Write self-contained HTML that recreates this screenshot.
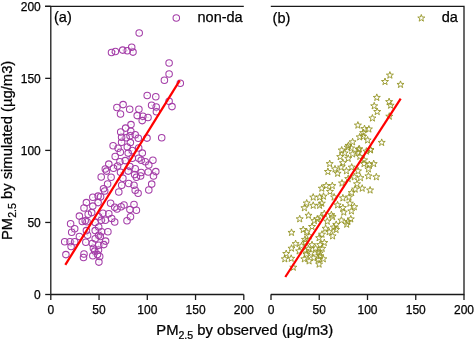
<!DOCTYPE html>
<html><head><meta charset="utf-8"><style>
html,body{margin:0;padding:0;background:#fff;}
body{width:475px;height:341px;overflow:hidden;}
svg{display:block;will-change:transform;}
text{font-family:"Liberation Sans",sans-serif;fill:#000;stroke:#000;stroke-width:0.25px;}
</style></head><body>
<svg width="475" height="341" viewBox="0 0 475 341">
<defs>
<g id="c"><circle r="3.25" fill="none" stroke="#a43ea8" stroke-width="1.05"/><circle r="0.6" fill="#a43ea8" fill-opacity="0.35"/></g>
<path id="s" d="M0.00,-3.70 L0.88,-1.21 L3.52,-1.14 L1.43,0.46 L2.17,2.99 L0.00,1.50 L-2.17,2.99 L-1.43,0.46 L-3.52,-1.14 L-0.88,-1.21Z" fill="none" stroke="#959526" stroke-width="0.9" stroke-linejoin="miter" stroke-miterlimit="3"/>
</defs>

<g stroke="#1a1a1a" stroke-width="1.3" fill="none" shape-rendering="auto">
<path d="M50.8,6.3 V294.5 M45,6.3 H243.8 M50.8,294.5 H243.8"/>
<path d="M45.2,294.50 H50.8"/>
<path d="M45.2,222.45 H50.8"/>
<path d="M45.2,150.40 H50.8"/>
<path d="M45.2,78.35 H50.8"/>
<path d="M45.2,6.30 H50.8"/>
<path d="M50.80,294.5 V300"/>
<path d="M99.05,294.5 V300"/>
<path d="M147.30,294.5 V300"/>
<path d="M195.55,294.5 V300"/>
<path d="M243.80,294.5 V300"/>
<path d="M270.8,6.3 H464 V294.5 H270.8"/>
<path d="M271.00,294.5 V300"/>
<path d="M319.25,294.5 V300"/>
<path d="M367.50,294.5 V300"/>
<path d="M415.75,294.5 V300"/>
<path d="M464.00,294.5 V300"/>
</g>
<g font-size="12">
<text x="40.8" y="298.80" text-anchor="end">0</text>
<text x="40.8" y="226.75" text-anchor="end">50</text>
<text x="40.8" y="154.70" text-anchor="end">100</text>
<text x="40.8" y="82.65" text-anchor="end">150</text>
<text x="40.8" y="10.60" text-anchor="end">200</text>
<text x="50.80" y="313.6" text-anchor="middle">0</text>
<text x="99.05" y="313.6" text-anchor="middle">50</text>
<text x="147.30" y="313.6" text-anchor="middle">100</text>
<text x="195.55" y="313.6" text-anchor="middle">150</text>
<text x="243.80" y="313.6" text-anchor="middle">200</text>
<text x="271.00" y="313.6" text-anchor="middle">0</text>
<text x="319.25" y="313.6" text-anchor="middle">50</text>
<text x="367.50" y="313.6" text-anchor="middle">100</text>
<text x="415.75" y="313.6" text-anchor="middle">150</text>
<text x="464.00" y="313.6" text-anchor="middle">200</text>
</g>
<text x="54" y="22" font-size="14.5">(a)</text>
<text x="272.6" y="23" font-size="14.5">(b)</text>
<text x="197.5" y="22.2" font-size="14.5">non-da</text>
<text x="441.8" y="22.2" font-size="14.5">da</text>
<use href="#c" x="176.3" y="18"/>
<use href="#s" x="421.3" y="18.2"/>
<text transform="translate(156.3,335.4) scale(1.057,1)" x="0" y="0" font-size="14">PM<tspan font-size="10" dy="3.8">2.5</tspan><tspan dy="-3.8"> by observed (µg/m3)</tspan></text>
<text transform="translate(12,240) rotate(-90) scale(1.057,1)" x="0" y="0" font-size="14">PM<tspan font-size="10" dy="4.2">2.5</tspan><tspan dy="-4.2"> by simulated (µg/m3)</tspan></text>
<g>
<use href="#c" x="139.2" y="32.9"/>
<use href="#c" x="111.5" y="52.4"/>
<use href="#c" x="115.4" y="51.4"/>
<use href="#c" x="122.7" y="50.1"/>
<use href="#c" x="127.3" y="50.7"/>
<use href="#c" x="131.7" y="47.2"/>
<use href="#c" x="133.0" y="52.1"/>
<use href="#c" x="169.1" y="62.9"/>
<use href="#c" x="169.1" y="74.0"/>
<use href="#c" x="164.4" y="80.2"/>
<use href="#c" x="180.3" y="83.2"/>
<use href="#c" x="147.2" y="95.4"/>
<use href="#c" x="155.8" y="96.7"/>
<use href="#c" x="169.1" y="101.3"/>
<use href="#c" x="151.6" y="105.2"/>
<use href="#c" x="156.2" y="107.0"/>
<use href="#c" x="172.0" y="106.6"/>
<use href="#c" x="123.1" y="104.6"/>
<use href="#c" x="116.9" y="107.5"/>
<use href="#c" x="129.7" y="109.2"/>
<use href="#c" x="138.9" y="109.2"/>
<use href="#c" x="120.5" y="114.0"/>
<use href="#c" x="137.2" y="115.6"/>
<use href="#c" x="142.9" y="116.2"/>
<use href="#c" x="142.2" y="120.6"/>
<use href="#c" x="131.0" y="124.6"/>
<use href="#c" x="113.1" y="145.7"/>
<use href="#c" x="156.4" y="111.7"/>
<use href="#c" x="148.0" y="117.4"/>
<use href="#c" x="147.0" y="138.1"/>
<use href="#c" x="161.7" y="137.8"/>
<use href="#c" x="152.9" y="160.2"/>
<use href="#c" x="145.3" y="161.7"/>
<use href="#c" x="148.8" y="164.9"/>
<use href="#c" x="141.2" y="160.2"/>
<use href="#c" x="148.2" y="172.0"/>
<use href="#c" x="155.8" y="171.6"/>
<use href="#c" x="141.2" y="172.5"/>
<use href="#c" x="115.2" y="156.5"/>
<use href="#c" x="132.3" y="158.2"/>
<use href="#c" x="138.7" y="158.2"/>
<use href="#c" x="108.8" y="164.1"/>
<use href="#c" x="119.9" y="161.7"/>
<use href="#c" x="125.2" y="160.6"/>
<use href="#c" x="113.5" y="168.2"/>
<use href="#c" x="129.9" y="166.4"/>
<use href="#c" x="135.2" y="168.8"/>
<use href="#c" x="106.5" y="171.1"/>
<use href="#c" x="120.5" y="172.3"/>
<use href="#c" x="128.2" y="171.1"/>
<use href="#c" x="134.6" y="174.6"/>
<use href="#c" x="101.2" y="177.0"/>
<use href="#c" x="111.1" y="177.2"/>
<use href="#c" x="122.9" y="178.2"/>
<use href="#c" x="136.4" y="177.2"/>
<use href="#c" x="107.6" y="184.0"/>
<use href="#c" x="121.7" y="185.2"/>
<use href="#c" x="128.7" y="183.4"/>
<use href="#c" x="134.0" y="185.2"/>
<use href="#c" x="103.5" y="188.7"/>
<use href="#c" x="104.7" y="190.9"/>
<use href="#c" x="118.8" y="192.0"/>
<use href="#c" x="135.2" y="190.3"/>
<use href="#c" x="138.1" y="193.2"/>
<use href="#c" x="100.6" y="196.7"/>
<use href="#c" x="110.6" y="203.2"/>
<use href="#c" x="114.7" y="207.3"/>
<use href="#c" x="121.1" y="206.7"/>
<use href="#c" x="124.0" y="204.9"/>
<use href="#c" x="117.0" y="209.0"/>
<use href="#c" x="134.0" y="204.4"/>
<use href="#c" x="129.9" y="209.6"/>
<use href="#c" x="136.4" y="210.2"/>
<use href="#c" x="102.9" y="213.2"/>
<use href="#c" x="108.8" y="213.7"/>
<use href="#c" x="130.5" y="216.7"/>
<use href="#c" x="127.0" y="220.8"/>
<use href="#c" x="105.3" y="220.2"/>
<use href="#c" x="111.7" y="218.4"/>
<use href="#c" x="114.7" y="222.0"/>
<use href="#c" x="101.2" y="220.2"/>
<use href="#c" x="92.8" y="197.3"/>
<use href="#c" x="98.1" y="196.1"/>
<use href="#c" x="86.4" y="202.6"/>
<use href="#c" x="92.8" y="206.1"/>
<use href="#c" x="98.1" y="202.6"/>
<use href="#c" x="84.0" y="207.9"/>
<use href="#c" x="79.4" y="216.1"/>
<use href="#c" x="88.2" y="214.3"/>
<use href="#c" x="91.7" y="212.6"/>
<use href="#c" x="85.2" y="220.8"/>
<use href="#c" x="82.3" y="221.4"/>
<use href="#c" x="95.2" y="222.5"/>
<use href="#c" x="70.6" y="223.7"/>
<use href="#c" x="98.7" y="216.7"/>
<use href="#c" x="74.7" y="228.8"/>
<use href="#c" x="71.7" y="232.3"/>
<use href="#c" x="87.0" y="221.8"/>
<use href="#c" x="86.4" y="230.6"/>
<use href="#c" x="87.6" y="235.2"/>
<use href="#c" x="95.2" y="230.6"/>
<use href="#c" x="98.7" y="227.0"/>
<use href="#c" x="79.4" y="236.4"/>
<use href="#c" x="64.7" y="241.7"/>
<use href="#c" x="70.0" y="241.7"/>
<use href="#c" x="74.7" y="241.7"/>
<use href="#c" x="71.1" y="246.4"/>
<use href="#c" x="85.8" y="242.3"/>
<use href="#c" x="92.3" y="243.5"/>
<use href="#c" x="95.2" y="238.8"/>
<use href="#c" x="98.7" y="235.2"/>
<use href="#c" x="98.7" y="245.2"/>
<use href="#c" x="93.4" y="248.2"/>
<use href="#c" x="65.9" y="254.6"/>
<use href="#c" x="84.0" y="254.0"/>
<use href="#c" x="83.5" y="257.5"/>
<use href="#c" x="92.8" y="255.8"/>
<use href="#c" x="97.5" y="254.6"/>
<use href="#c" x="101.5" y="231.7"/>
<use href="#c" x="107.9" y="231.7"/>
<use href="#c" x="100.3" y="236.4"/>
<use href="#c" x="105.6" y="241.1"/>
<use href="#c" x="103.8" y="244.6"/>
<use href="#c" x="98.5" y="249.9"/>
<use href="#c" x="99.7" y="256.4"/>
<use href="#c" x="98.9" y="262.1"/>
<use href="#c" x="94.7" y="251.1"/>
<use href="#c" x="140.6" y="175.9"/>
<use href="#c" x="153.5" y="175.9"/>
<use href="#c" x="151.7" y="184.1"/>
<use href="#c" x="148.8" y="189.9"/>
<use href="#c" x="105.3" y="169.0"/>
<use href="#c" x="117.6" y="165.9"/>
<use href="#c" x="125.6" y="128.1"/>
<use href="#c" x="120.7" y="132.0"/>
<use href="#c" x="130.8" y="131.2"/>
<use href="#c" x="130.0" y="135.8"/>
<use href="#c" x="135.2" y="134.7"/>
<use href="#c" x="121.6" y="137.3"/>
<use href="#c" x="126.2" y="137.8"/>
<use href="#c" x="138.3" y="138.2"/>
<use href="#c" x="121.6" y="142.2"/>
<use href="#c" x="130.4" y="142.6"/>
<use href="#c" x="118.1" y="148.3"/>
<use href="#c" x="127.3" y="147.0"/>
<use href="#c" x="132.2" y="150.5"/>
<use href="#c" x="138.7" y="147.9"/>
<use href="#c" x="120.3" y="152.3"/>
<use href="#c" x="128.2" y="153.1"/>
<use href="#c" x="142.3" y="153.1"/>
</g><g>
<use href="#s" x="389.9" y="75.3"/>
<use href="#s" x="385.0" y="81.7"/>
<use href="#s" x="400.5" y="84.6"/>
<use href="#s" x="389.3" y="116.4"/>
<use href="#s" x="347.6" y="147.3"/>
<use href="#s" x="341.7" y="150.2"/>
<use href="#s" x="359.3" y="149.0"/>
<use href="#s" x="381.7" y="142.6"/>
<use href="#s" x="313.2" y="197.3"/>
<use href="#s" x="319.6" y="197.3"/>
<use href="#s" x="306.7" y="203.2"/>
<use href="#s" x="304.4" y="207.9"/>
<use href="#s" x="313.2" y="205.5"/>
<use href="#s" x="319.6" y="205.5"/>
<use href="#s" x="308.5" y="215.5"/>
<use href="#s" x="299.7" y="219.0"/>
<use href="#s" x="314.4" y="220.8"/>
<use href="#s" x="320.8" y="217.3"/>
<use href="#s" x="327.3" y="221.4"/>
<use href="#s" x="331.4" y="214.9"/>
<use href="#s" x="324.3" y="213.8"/>
<use href="#s" x="312.0" y="226.7"/>
<use href="#s" x="291.5" y="232.6"/>
<use href="#s" x="303.2" y="229.7"/>
<use href="#s" x="306.7" y="232.0"/>
<use href="#s" x="309.1" y="236.1"/>
<use href="#s" x="305.0" y="239.6"/>
<use href="#s" x="295.6" y="243.8"/>
<use href="#s" x="291.5" y="248.4"/>
<use href="#s" x="301.5" y="246.1"/>
<use href="#s" x="312.0" y="244.9"/>
<use href="#s" x="315.5" y="248.4"/>
<use href="#s" x="286.2" y="253.7"/>
<use href="#s" x="305.6" y="250.8"/>
<use href="#s" x="310.8" y="253.1"/>
<use href="#s" x="284.8" y="259.0"/>
<use href="#s" x="291.2" y="258.5"/>
<use href="#s" x="293.3" y="267.4"/>
<use href="#s" x="299.1" y="251.1"/>
<use href="#s" x="305.4" y="242.2"/>
<use href="#s" x="308.5" y="249.0"/>
<use href="#s" x="320.1" y="244.8"/>
<use href="#s" x="324.3" y="242.7"/>
<use href="#s" x="322.2" y="248.5"/>
<use href="#s" x="306.4" y="254.3"/>
<use href="#s" x="318.0" y="252.2"/>
<use href="#s" x="304.3" y="259.0"/>
<use href="#s" x="309.1" y="261.1"/>
<use href="#s" x="313.8" y="258.0"/>
<use href="#s" x="318.5" y="259.5"/>
<use href="#s" x="323.3" y="259.0"/>
<use href="#s" x="319.1" y="264.3"/>
<use href="#s" x="317.3" y="219.1"/>
<use href="#s" x="332.6" y="216.8"/>
<use href="#s" x="341.4" y="220.3"/>
<use href="#s" x="346.7" y="224.4"/>
<use href="#s" x="350.8" y="219.1"/>
<use href="#s" x="325.6" y="228.5"/>
<use href="#s" x="333.8" y="227.3"/>
<use href="#s" x="336.1" y="229.7"/>
<use href="#s" x="329.1" y="232.0"/>
<use href="#s" x="322.0" y="234.4"/>
<use href="#s" x="332.6" y="236.1"/>
<use href="#s" x="319.1" y="237.9"/>
<use href="#s" x="319.7" y="253.1"/>
<use href="#s" x="351.4" y="211.1"/>
<use href="#s" x="343.8" y="212.3"/>
<use href="#s" x="347.9" y="221.7"/>
<use href="#s" x="336.2" y="224.6"/>
<use href="#s" x="348.5" y="145.6"/>
<use href="#s" x="351.2" y="148.2"/>
<use href="#s" x="370.5" y="149.9"/>
<use href="#s" x="320.3" y="255.9"/>
<use href="#s" x="372.4" y="118.2"/>
<use href="#s" x="357.9" y="125.3"/>
<use href="#s" x="364.5" y="128.8"/>
<use href="#s" x="368.9" y="129.2"/>
<use href="#s" x="363.2" y="132.8"/>
<use href="#s" x="359.7" y="137.1"/>
<use href="#s" x="367.6" y="140.2"/>
<use href="#s" x="352.6" y="142.0"/>
<use href="#s" x="363.2" y="136.4"/>
<use href="#s" x="376.8" y="97.6"/>
<use href="#s" x="374.2" y="106.0"/>
<use href="#s" x="377.2" y="111.7"/>
<use href="#s" x="389.1" y="101.8"/>
<use href="#s" x="390.6" y="105.4"/>
<use href="#s" x="329.7" y="163.8"/>
<use href="#s" x="327.9" y="171.7"/>
<use href="#s" x="335.0" y="169.1"/>
<use href="#s" x="337.6" y="173.5"/>
<use href="#s" x="341.1" y="167.3"/>
<use href="#s" x="342.9" y="162.9"/>
<use href="#s" x="340.2" y="156.8"/>
<use href="#s" x="344.6" y="153.2"/>
<use href="#s" x="348.2" y="158.5"/>
<use href="#s" x="352.6" y="154.1"/>
<use href="#s" x="357.8" y="152.4"/>
<use href="#s" x="351.7" y="167.3"/>
<use href="#s" x="346.4" y="171.0"/>
<use href="#s" x="354.3" y="177.0"/>
<use href="#s" x="360.5" y="177.9"/>
<use href="#s" x="358.0" y="171.1"/>
<use href="#s" x="348.2" y="178.8"/>
<use href="#s" x="342.0" y="183.2"/>
<use href="#s" x="332.3" y="185.8"/>
<use href="#s" x="326.2" y="185.8"/>
<use href="#s" x="321.8" y="188.4"/>
<use href="#s" x="364.0" y="163.8"/>
<use href="#s" x="369.3" y="164.7"/>
<use href="#s" x="373.7" y="163.8"/>
<use href="#s" x="368.4" y="169.1"/>
<use href="#s" x="368.4" y="176.1"/>
<use href="#s" x="376.3" y="177.0"/>
<use href="#s" x="357.0" y="184.0"/>
<use href="#s" x="355.2" y="189.3"/>
<use href="#s" x="362.2" y="188.4"/>
<use href="#s" x="370.1" y="190.2"/>
<use href="#s" x="351.7" y="192.8"/>
<use href="#s" x="334.1" y="197.2"/>
<use href="#s" x="342.9" y="198.1"/>
<use href="#s" x="349.0" y="197.2"/>
<use href="#s" x="337.6" y="205.1"/>
<use href="#s" x="342.9" y="207.8"/>
<use href="#s" x="349.9" y="203.4"/>
<use href="#s" x="354.3" y="206.9"/>
<use href="#s" x="323.5" y="196.4"/>
<use href="#s" x="321.8" y="203.4"/>
<use href="#s" x="330.0" y="191.6"/>
<use href="#s" x="366.4" y="151.3"/>
<use href="#s" x="370.5" y="149.9"/>
<use href="#s" x="358.6" y="149.5"/>
<use href="#s" x="359.8" y="156.6"/>
<use href="#s" x="364.1" y="160.1"/>
</g>
<path d="M65.3,264.8 L179.8,80.3" stroke="#ff0000" stroke-width="2.2" fill="none"/>
<path d="M285.3,277 L400.7,98.6" stroke="#ff0000" stroke-width="2.2" fill="none"/>
</svg></body></html>
